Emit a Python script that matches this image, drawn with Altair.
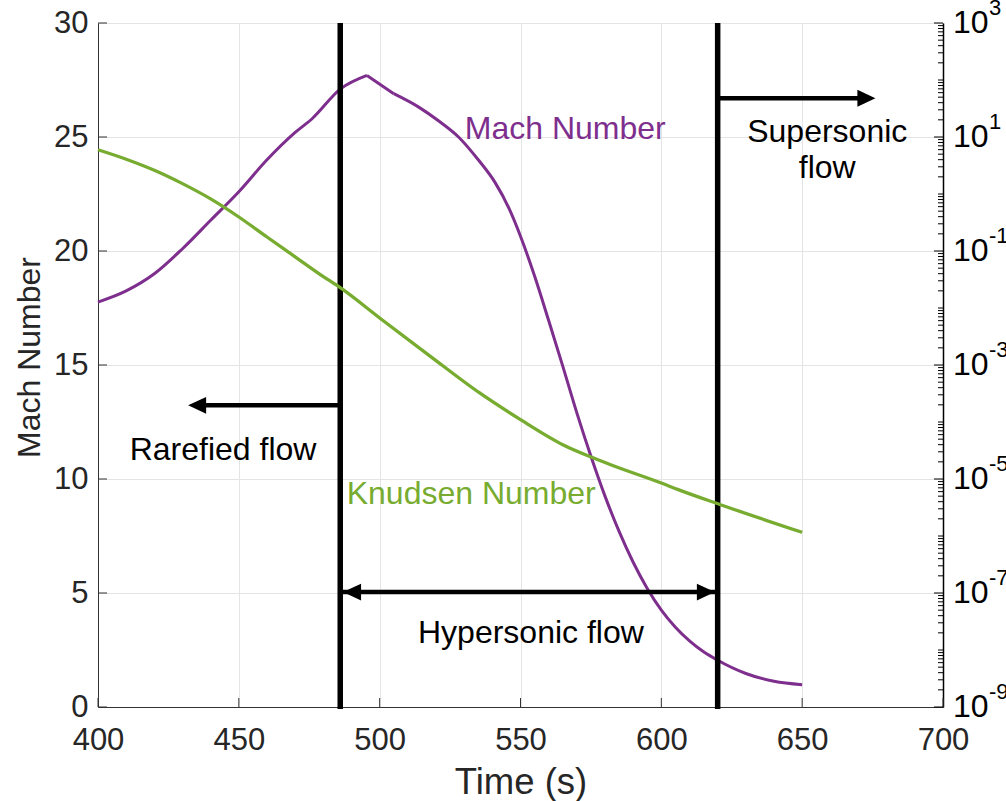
import altair as alt
import pandas as pd

# Mach number along the trajectory (time in s)
mach_time = [400, 410, 420, 430, 440, 450, 460, 470, 476, 486, 495.5, 505, 514, 521,
             528, 535, 541, 546, 550, 555, 560, 565, 570, 575, 580, 585, 590, 595,
             600, 605, 610, 615, 620, 630, 640, 650]
mach_value = [17.76, 18.25, 19.0, 20.1, 21.35, 22.6, 24.0, 25.2, 25.8, 27.1, 27.7, 26.9,
              26.3, 25.7, 25.0, 24.0, 23.0, 21.85, 20.65, 18.9, 16.95, 14.95, 12.9, 11.0,
              9.25, 7.7, 6.35, 5.2, 4.25, 3.5, 2.9, 2.42, 2.05, 1.47, 1.13, 0.98]
# Corners of the Mach curve (peak and shoulder), where smoothing restarts
mach_corners = [495.5, 505]

# Knudsen number along the trajectory
kn_time = [400, 410, 420, 430, 440, 450, 460, 470, 480, 486, 500, 518, 535.5, 550,
           565, 576, 582, 600, 606, 621, 650]
kn_value = [5.98, 4.08, 2.61, 1.52, 0.82, 0.395, 0.176, 0.0791, 0.0356, 0.0227,
            6.68e-3, 1.42e-3, 3.23e-4, 1.10e-4, 4.0e-5, 2.33e-5, 1.78e-5, 8.5e-6,
            6.5e-6, 3.54e-6, 1.16e-6]

# Flow-regime boundaries (s)
regime_bounds = [486, 620]

# Regime arrows: shaft start/end (s) and height on the Mach axis
shaft_from = [486, 486, 620]
shaft_to = [437, 620, 671]
shaft_mach = [13.23, 5.04, 26.7]
# Arrow heads: tip time, height, direction
head_time = [432, 487, 619, 676]
head_mach = [13.23, 5.04, 5.04, 26.7]
head_dir = ["left", "left", "right", "right"]

# Annotations (time, Mach-axis baseline)
note_text = ["Rarefied flow", "Hypersonic flow", "Supersonic\nflow", "Mach Number", "Knudsen Number"]
note_time = [444.4, 553.7, 658.9, 565.9, 532.5]
note_mach = [10.85, 2.81, 24.77, 24.93, 8.92]
note_color = ["#000000", "#000000", "#000000", "#7E2F8E", "#77AC30"]

# Axis ticks
x_ticks = [400, 450, 500, 550, 600, 650, 700]
mach_ticks = [0, 5, 10, 15, 20, 25, 30]
kn_label_exp = [3, 1, -1, -3, -5, -7, -9]

W, H = 845, 684
FONT = "Liberation Sans"
PURPLE = "#7E2F8E"
GREEN = "#77AC30"
AXIS_GRAY = "#262626"

xs = alt.Scale(domain=[400, 700], nice=False, zero=False)
ys = alt.Scale(domain=[0, 30], nice=False, zero=False)
ks = alt.Scale(type="log", domain=[1e-9, 1e3], nice=False)

# Split the Mach curve at its corners so each piece is smoothed on its own
pieces = []
edges = [mach_time[0]] + mach_corners + [mach_time[-1]]
for i in range(len(edges) - 1):
    for t, m in zip(mach_time, mach_value):
        if edges[i] <= t <= edges[i + 1]:
            pieces.append({"t": t, "M": m, "piece": i})
mach_df = pd.DataFrame(pieces)

kn_df = pd.DataFrame({"t": kn_time, "K": kn_value})
bounds_df = pd.DataFrame({"t": regime_bounds})
shaft_df = pd.DataFrame({"a": shaft_from, "b": shaft_to, "M": shaft_mach})
head_df = pd.DataFrame({"t": head_time, "M": head_mach, "dir": head_dir})
note_df = pd.DataFrame({"label": note_text, "t": note_time, "M": note_mach, "c": note_color})
xt_df = pd.DataFrame({"v": x_ticks})
mt_df = pd.DataFrame({"v": mach_ticks})

major_df = pd.DataFrame({"v": [10.0 ** e for e in kn_label_exp], "e": [str(e) for e in kn_label_exp]})
minor_vals = [m * 10.0 ** k for k in range(-9, 3) for m in range(2, 10)]
minor_vals += [10.0 ** k for k in range(-9, 4) if k not in kn_label_exp]
minor_df = pd.DataFrame({"v": minor_vals})

x_axis = alt.Axis(values=x_ticks, grid=True, gridColor="#e4e4e4", gridWidth=1,
                  ticks=False, domain=True, domainColor="#333333", domainWidth=1,
                  labelFontSize=31, labelColor=AXIS_GRAY, labelFont=FONT, labelPadding=18,
                  labelFlush=False, labelOverlap=False,
                  title="Time (s)", titleFontSize=36.5, titleColor=AXIS_GRAY, titleFont=FONT,
                  titleFontWeight="normal", titleBaseline="alphabetic", titleY=86)
y_axis = alt.Axis(values=mach_ticks, grid=True, gridColor="#e4e4e4", gridWidth=1,
                  ticks=False, domain=True, domainColor="#333333", domainWidth=1,
                  labelFontSize=31, labelColor=AXIS_GRAY, labelFont=FONT, labelPadding=10,
                  labelFlush=False, labelOverlap=False,
                  title="Mach Number", titleFontSize=32, titleColor=AXIS_GRAY, titleFont=FONT,
                  titleFontWeight="normal", titlePadding=7, titleY=334)
kn_axis = alt.Axis(orient="right", labels=False, ticks=False, grid=False, domain=True,
                   domainColor="black", domainWidth=1.5, title=None)

X = dict(scale=xs, axis=x_axis)
YM = dict(scale=ys, axis=y_axis)
YK = dict(scale=ks, axis=kn_axis)

mach_line = alt.Chart(mach_df).mark_line(color=PURPLE, strokeWidth=3, interpolate="monotone").encode(
    x=alt.X("t:Q", **X),
    y=alt.Y("M:Q", **YM),
    detail="piece:N",
)

bound_rules = alt.Chart(bounds_df).mark_rule(color="black", strokeWidth=5.5).encode(
    x=alt.X("t:Q", **X),
    y=alt.value(0),
    y2=alt.value(H + 2),
)

shafts = alt.Chart(shaft_df).mark_rule(color="black", strokeWidth=4.5).encode(
    x=alt.X("a:Q", **X),
    x2="b:Q",
    y=alt.Y("M:Q", **YM),
)

head_left = "M0,0L1,-0.47L1,0.47Z"
head_right = "M0,0L-1,-0.47L-1,0.47Z"
heads = alt.Chart(head_df).mark_point(filled=True, color="black", opacity=1, size=1296, strokeWidth=0).encode(
    x=alt.X("t:Q", **X),
    y=alt.Y("M:Q", **YM),
    shape=alt.Shape("dir:N", scale=alt.Scale(domain=["left", "right"], range=[head_left, head_right]), legend=None),
)

notes = alt.Chart(note_df).mark_text(font=FONT, fontSize=32, align="center", baseline="alphabetic",
                                     lineBreak="\n", lineHeight=35.5).encode(
    x=alt.X("t:Q", **X),
    y=alt.Y("M:Q", **YM),
    text="label:N",
    color=alt.Color("c:N", scale=None),
)

left_ticks = alt.Chart(mt_df).mark_rule(color="#333333", strokeWidth=1).encode(
    y=alt.Y("v:Q", **YM),
    x=alt.value(0),
    x2=alt.value(9),
)
bottom_ticks = alt.Chart(xt_df).mark_rule(color="#333333", strokeWidth=1).encode(
    x=alt.X("v:Q", **X),
    y=alt.value(H),
    y2=alt.value(H - 9),
)

mach_group = alt.layer(mach_line, bound_rules, shafts, heads, notes, left_ticks, bottom_ticks)

kn_line = alt.Chart(kn_df).mark_line(color=GREEN, strokeWidth=3.3, interpolate="monotone").encode(
    x=alt.X("t:Q", **X),
    y=alt.Y("K:Q", **YK),
)
kn_major = alt.Chart(major_df).mark_rule(color="black", strokeWidth=1).encode(
    y=alt.Y("v:Q", **YK),
    x=alt.value(W),
    x2=alt.value(W - 9),
)
kn_minor = alt.Chart(minor_df).mark_rule(color="black", strokeWidth=1).encode(
    y=alt.Y("v:Q", **YK),
    x=alt.value(W),
    x2=alt.value(W - 5),
)
kn_base = alt.Chart(major_df).mark_text(font=FONT, fontSize=32, align="left", baseline="middle",
                                        color="black").encode(
    y=alt.Y("v:Q", **YK),
    x=alt.value(W + 10),
    text=alt.value("10"),
)
kn_exp = alt.Chart(major_df).mark_text(font=FONT, fontSize=22, align="left", baseline="middle",
                                       color="black", dy=-15).encode(
    y=alt.Y("v:Q", **YK),
    x=alt.value(W + 46),
    text="e:N",
)

kn_group = alt.layer(kn_line, kn_major, kn_minor, kn_base, kn_exp)

chart = alt.layer(mach_group, kn_group).resolve_scale(y="independent").properties(
    width=W,
    height=H,
    padding={"left": 98, "top": 23, "right": 63, "bottom": 94},
    autosize=alt.AutoSizeParams(type="none"),
    background="white",
).configure_view(stroke="#333333", strokeWidth=1)

chart.save("out.html", embed_options={"renderer": "svg", "actions": False})
